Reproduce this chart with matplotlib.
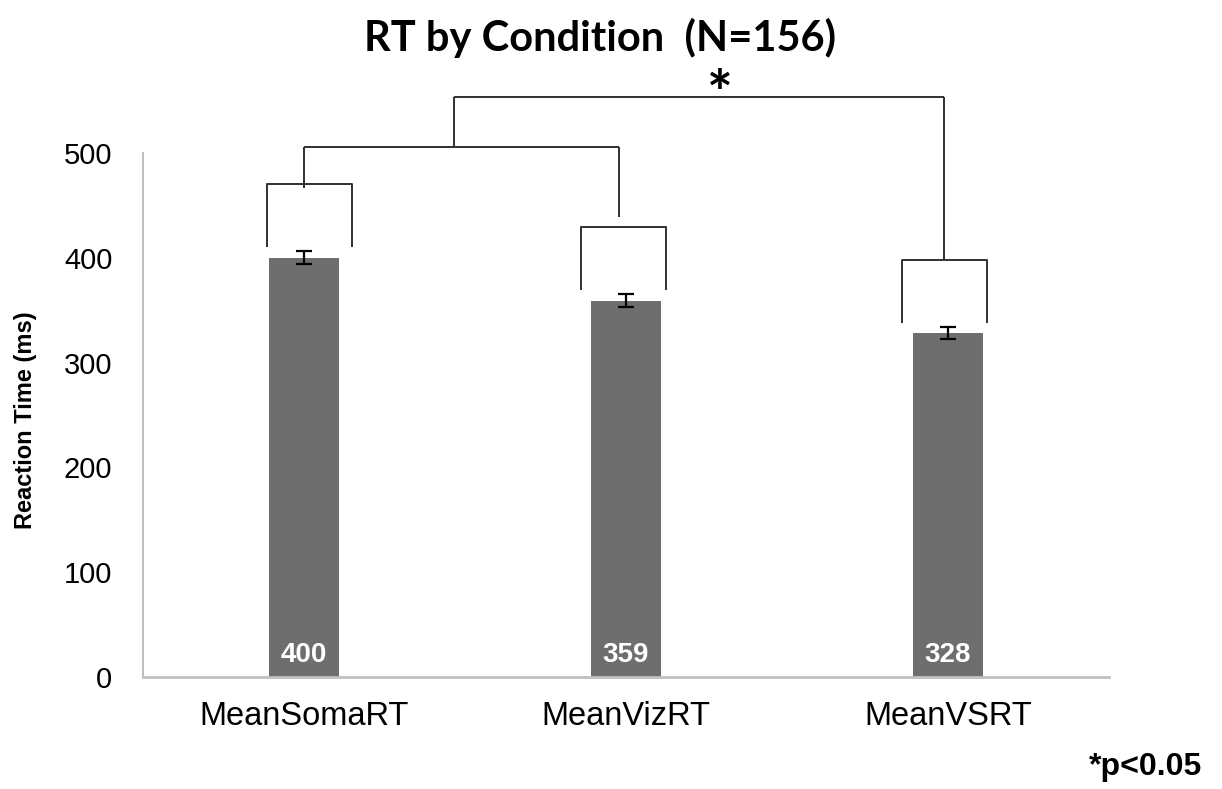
import matplotlib
matplotlib.use("Agg")
import matplotlib.pyplot as plt
import numpy as np

categories = ["MeanSomaRT", "MeanVizRT", "MeanVSRT"]
means = [400, 359, 328]
errors = [6.5, 6.5, 6]
yticks = [0, 100, 200, 300, 400, 500]

BAR_COLOR = "#6e6e6e"
LINE_COLOR = "#303030"

fig = plt.figure(figsize=(12.22, 7.89), dpi=100)
ax = fig.add_axes([143/1222, 1 - 677/789, (1109 - 143)/1222, 629/789])

x = np.arange(len(categories))
ax.bar(x, means, width=0.22, color=BAR_COLOR, zorder=2)
ax.errorbar(x, means, yerr=errors, fmt="none", ecolor="black", elinewidth=1.6,
            capsize=6, capthick=1.6, zorder=3)

for xi, m in zip(x, means):
    ax.text(xi, 21, f"{m}", ha="center", va="center", color="white",
            fontsize=20, fontweight="bold", family="Liberation Sans", zorder=4)

ax.set_xlim(-0.5, 2.5)
ax.set_ylim(0, 600)
ax.set_yticks(yticks)
ax.set_xticks(x)
ax.set_xticklabels(categories, fontsize=23.5, family="Liberation Sans")
ax.tick_params(axis="y", labelsize=21, length=0, pad=22)
ax.tick_params(axis="x", length=0, pad=17)
for lab in ax.get_yticklabels():
    lab.set_family("Liberation Sans")

for s in ["top", "right"]:
    ax.spines[s].set_visible(False)
ax.spines["left"].set_bounds(0, 500)
ax.spines["left"].set_color("#c0c0c0")
ax.spines["left"].set_linewidth(1.5)
ax.spines["bottom"].set_color("#c0c0c0")
ax.spines["bottom"].set_linewidth(2)

fig.text(26/1222, 1 - 420/789, "Reaction Time (ms)", rotation=90, ha="center",
         va="center", fontsize=17, fontweight="bold", family="Liberation Sans")

lw = 1.4
def line(xs, ys):
    ax.plot(xs, ys, color=LINE_COLOR, lw=lw, solid_capstyle="butt", zorder=5, clip_on=False)

# per-bar brackets (offsets relative to bar centre)
left_off = [-0.115, -0.14, -0.142]
right_off = [0.15, 0.124, 0.12]
for xi, m, lo, ro in zip(x, means, left_off, right_off):
    bottom = m + 10
    top = m + 70
    line([xi + lo, xi + lo, xi + ro, xi + ro], [bottom, top, top, bottom])

# stubs and connecting brackets
y_mid = 505.7
y_top = 553
line([0, 0], [466, y_mid])
line([0, 0.978], [y_mid, y_mid])
line([0.978, 0.978], [y_mid, 439])
line([0.467, 0.467], [y_mid, y_top])
line([0.467, 1.988], [y_top, y_top])
line([1.988, 1.988], [y_top, 398])

fig.text(720/1222, 1 - 97/789, "*", ha="center", va="center", fontsize=44,
         fontweight="bold", family="Lato")
fig.text(600/1222, 1 - 38/789, "RT by Condition  (N=156)", ha="center", va="center",
         fontsize=30, fontweight="bold", family="Lato")
fig.text(1146/1222, 1 - 767/789, "*p<0.05", ha="center", va="center",
         fontsize=23, fontweight="bold", family="Liberation Sans")

fig.savefig("out.png", dpi=100)
